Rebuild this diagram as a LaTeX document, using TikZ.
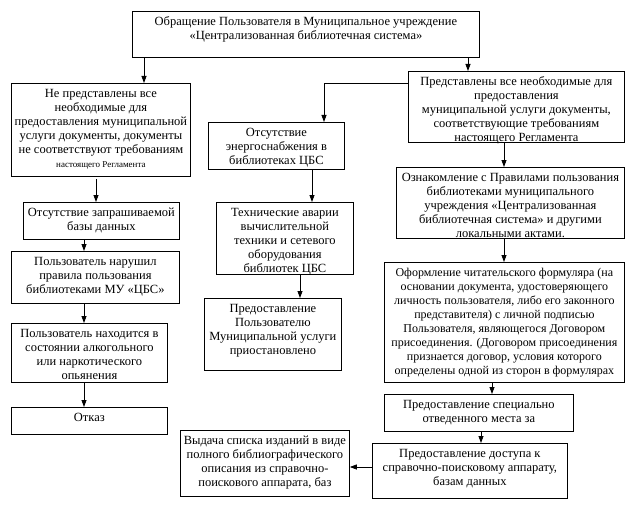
\documentclass[tikz,border=0pt]{standalone}
\usepackage{fontspec}
\setmainfont{Liberation Serif}
\usetikzlibrary{arrows.meta}
\newcommand\boxtext[3]{\parbox[t][#2][t]{#1}{\centering\vspace*{4pt}\strut#3\par}}
\newcommand\oneline[1]{\makebox[\linewidth][c]{#1}}
\begin{document}
\begin{tikzpicture}[x=1pt,y=-1pt,
  box/.style={draw, inner sep=0pt, anchor=north west, line width=0.8pt},
  arr/.style={-{Triangle[width=5pt,length=7pt]}, line width=0.8pt},
  font=\fontsize{12.5}{14}\selectfont]
\useasboundingbox (0,0) rectangle (634,508);
% helper coordinates
\coordinate (x144) at (144,0); \coordinate (x468) at (468,0);
\coordinate (x324) at (324,0); \coordinate (y83) at (0,83);
\coordinate (x96) at (96,0); \coordinate (x84) at (84,0);
\coordinate (x312) at (312,0); \coordinate (x300) at (300,0);
\coordinate (x504) at (504,0); \coordinate (x492) at (492,0);
\coordinate (x481) at (481,0); \coordinate (y467) at (0,467);
% boxes
\node[box] (top) at (132,11) {\boxtext{347pt}{46pt}{Обращение Пользователя в Муниципальное учреждение\\«Централизованная библиотечная система»}};
\node[box] (L1) at (11,83) {\boxtext{179pt}{93pt}{Не представлены все\\необходимые для\\предоставления муниципальной\\услуги документы, документы\\не соответствуют требованиям\\{\fontsize{9}{14}\selectfont настоящего Регламента}}};
\node[box] (L2) at (23,202) {\boxtext{156pt}{37pt}{Отсутствие запрашиваемой\\базы данных}};
\node[box] (L3) at (11,251) {\boxtext{168pt}{52pt}{Пользователь нарушил\\правила пользования\\библиотеками МУ «ЦБС»}};
\node[box] (L4) at (11,323) {\boxtext{156pt}{59pt}{Пользователь находится в\\состоянии алкогольного\\или наркотического\\опьянения}};
\node[box] (L5) at (11,407) {\boxtext{156pt}{27pt}{Отказ}};
\node[box] (M1) at (208,122) {\boxtext{136pt}{47pt}{Отсутствие\\энергоснабжения в\\библиотеках ЦБС}};
\node[box] (M2) at (216,202) {\boxtext{137pt}{72pt}{Технические аварии\\вычислительной\\техники и сетевого\\оборудования\\библиотек ЦБС}};
\node[box] (M3) at (204,298) {\boxtext{137pt}{72pt}{Предоставление\\Пользователю\\Муниципальной услуги\\приостановлено}};
\node[box] (R1) at (408,71) {\boxtext{216pt}{71pt}{Представлены все необходимые для\\предоставления\\муниципальной услуги документы,\\соответствующие требованиям\\настоящего Регламента}};
\node[box] (R2) at (396,167) {\boxtext{228pt}{71pt}{Ознакомление с Правилами пользования\\библиотеками муниципального\\учреждения «Централизованная\\библиотечная система» и другими\\локальными актами.}};
\node[box] (R3) at (384,262) {\boxtext{240pt}{120pt}{\fontsize{12}{14}\selectfont\oneline{Оформление читательского формуляра (на}\\\oneline{основании документа, удостоверяющего}\\\oneline{личность пользователя, либо его законного}\\\oneline{представителя) с личной подписью}\\\oneline{Пользователя, являющегося Договором}\\\oneline{присоединения. (Договором присоединения}\\\oneline{признается договор, условия которого}\\\oneline{определены одной из сторон в формулярах}}};
\node[box] (R4) at (384,394) {\boxtext{189pt}{37pt}{Предоставление специально\\отведенного места за}};
\node[box] (R5) at (372,443) {\boxtext{195pt}{55pt}{Предоставление доступа к\\справочно-поисковому аппарату,\\базам данных}};
\node[box] (B) at (180,430) {\boxtext{169pt}{66pt}{Выдача списка изданий в виде\\полного библиографического\\описания из справочно-\\поискового аппарата, баз}};
% connectors
\draw[arr] (top.south -| x144) -- (L1.north -| x144);
\draw[arr] (top.south -| x468) -- (R1.north -| x468);
\draw[arr] (R1.west |- y83) -| (M1.north -| x324);
\draw[arr, shorten <=2pt] (L1.south -| x96) -- (L2.north -| x96);
\draw[arr] (L2.south -| x84) -- (L3.north -| x84);
\draw[arr] (L3.south -| x84) -- (L4.north -| x84);
\draw[arr] (L4.south -| x84) -- (L5.north -| x84);
\draw[arr] (M1.south -| x312) -- (M2.north -| x312);
\draw[arr] (M2.south -| x300) -- (M3.north -| x300);
\draw[arr] (R1.south -| x504) -- (R2.north -| x504);
\draw[arr] (R2.south -| x504) -- (R3.north -| x504);
\draw[arr] (R3.south -| x492) -- (R4.north -| x492);
\draw[arr] (R4.south -| x481) -- (R5.north -| x481);
\draw[arr] (R5.west |- y467) -- (B.east |- y467);
\end{tikzpicture}
\end{document}
